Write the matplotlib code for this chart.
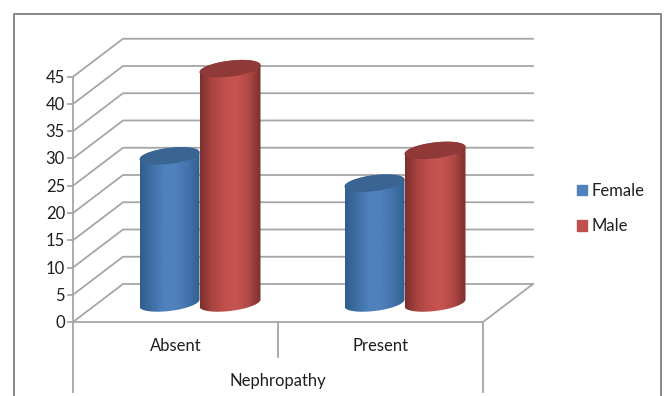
import matplotlib
matplotlib.use('Agg')
import matplotlib.pyplot as plt
import numpy as np
from matplotlib.colors import LinearSegmentedColormap
from matplotlib.patches import Patch, Polygon

categories = ['Absent', 'Present']
female = [27, 22]
male = [43, 28]
y_ticks = [0, 5, 10, 15, 20, 25, 30, 35, 40, 45]
axis_title = 'Nephropathy'

plt.rcParams['font.family'] = ['Lato', 'DejaVu Sans']

# scales, pixels per unit of the front plane
px_x = 205.0
px_y = 5.45
x0 = 73.0
y0 = 322.0
W, H = 665.0, 396.0
depth_x = 50 / px_x
depth_y = 38 / px_y
bar_w = 60 / px_x
male_w = 61 / px_x
fs = 12

fig = plt.figure(figsize=(6.65, 3.96), dpi=100)
ax = fig.add_axes([0, 0, 1, 1])
ax.axis('off')
xlim = (-x0 / px_x, (W - x0) / px_x)
ylim = (-(H - y0) / px_y, y0 / px_y)

grey = '#a6a6a6'
txt = '#1f1f1f'

# chart border
ax.plot([14 / W, 14 / W, 661 / W, 661 / W], [0, 1 - 14 / H, 1 - 14 / H, 0],
        color='#868686', lw=1.4, transform=ax.transAxes, zorder=1)

# back wall and side wall grid
for v in y_ticks:
    ax.plot([0, depth_x, 2 + depth_x], [v, v + depth_y, v + depth_y], color=grey, lw=1.3, zorder=2)
    ax.plot([-5 / px_x, 0], [v, v], color=grey, lw=1.3, zorder=2)
    ax.text(-8 / px_x, v - 1 / px_y, str(v), ha='right', va='center', fontsize=fs, color=txt)

# floor and axis box
ax.plot([0, 2, 2 + depth_x], [0, 0, depth_y], color=grey, lw=1.3, zorder=2)
ax.plot([0, 0], [45, -70 / px_y], color=grey, lw=1.3, zorder=2)
ax.plot([1, 1], [0, -35 / px_y], color=grey, lw=1.3, zorder=2)
ax.plot([2, 2], [0, -70 / px_y], color=grey, lw=1.3, zorder=2)

for i, name in enumerate(categories):
    ax.text(i + 0.5, -24 / px_y, name, ha='center', va='center', fontsize=fs, color=txt)
ax.text(1, -59 / px_y, axis_title, ha='center', va='center', fontsize=fs, color=txt)


def cylinder(cx, width, value, colors, top_color, z):
    a = width / 2
    b = 8 / px_y
    s = 3.5 / px_y
    base = depth_y / 2
    top = base + value
    t = np.linspace(0, np.pi, 60)
    # upper arc of the top, lower arc of the base
    upper_x = cx + a * np.cos(t)
    upper_y = top + b * np.sin(t) + s * np.cos(t)
    lower_x = cx - a * np.cos(t)
    lower_y = base - b * np.sin(t) - s * np.cos(t)
    body = np.column_stack([np.r_[upper_x, lower_x], np.r_[upper_y, lower_y]])

    cmap = LinearSegmentedColormap.from_list('cyl', colors)
    grad = np.linspace(0, 1, 128).reshape(1, -1)
    im = ax.imshow(grad, cmap=cmap, aspect='auto', zorder=z, interpolation='bilinear',
                   extent=(cx - a, cx + a, base - b - s, top + b + s))
    patch = Polygon(body, closed=True, transform=ax.transData, fc='none', ec='none')
    ax.add_patch(patch)
    im.set_clip_path(patch)

    t2 = np.linspace(0, 2 * np.pi, 120)
    ax.fill(cx + a * np.cos(t2), top + b * np.sin(t2) + s * np.cos(t2),
            color=top_color, lw=0, zorder=z + 0.1)


blue = ['#2f5d8c', '#3f6fa6', '#4f81bd', '#4f81bd', '#4373ab', '#32608f']
red = ['#7d2f2d', '#a94442', '#c0504d', '#c85450', '#b04845', '#7d2f2d']

for i in range(len(categories)):
    center = i + 0.5 + depth_x / 2 - 1 / px_x
    cylinder(center - bar_w / 2, bar_w, female[i], blue, '#3a6592', 5 + i)
    cylinder(center + male_w / 2, male_w, male[i], red, '#8f3a38', 5.5 + i)

ax.set_xlim(xlim)
ax.set_ylim(ylim)

handles = [Patch(color='#4f81bd', label='Female'), Patch(color='#c0504d', label='Male')]
ax.legend(handles=handles, loc='center left', bbox_to_anchor=(572 / W, 1 - 208.5 / H), frameon=False,
          fontsize=fs, handlelength=0.58, handleheight=0.6, handletextpad=0.28, labelspacing=1.18,
          labelcolor=txt, borderpad=0, borderaxespad=0.3)

fig.savefig('out.png', dpi=100)
